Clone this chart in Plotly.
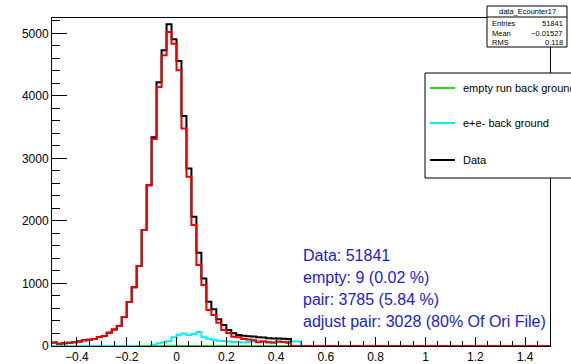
import plotly.graph_objects as go

# histogram binning: 100 bins of 0.02 from -0.5 to 1.5
x_start = -0.5
bin_width = 0.02
n_bins = 100

# counts per bin, first bin is [-0.50, -0.48]; bins not listed are empty
data_counts = [55, 35, 45, 50, 60, 70, 90, 100, 110, 145,
               160, 210, 265, 320, 465, 705, 940, 1280, 1855, 2570,
               3340, 4217, 4728, 5144, 4904, 4557, 3679, 2838, 2066, 1490,
               1081, 708, 586, 426, 335, 256, 203, 176, 165, 155,
               150, 140, 135, 125, 120, 120, 115, 110, 0, 0]

adjusted_counts = [55, 35, 45, 50, 60, 70, 90, 100, 110, 145,
                   160, 210, 265, 320, 465, 705, 940, 1280, 1855, 2570,
                   3310, 4142, 4648, 5021, 4835, 4409, 3477, 2705, 1933, 1294,
                   974, 575, 495, 372, 256, 208, 149, 139, 110, 105,
                   90, 60, 75, 60, 55, 70, 65, 50, 0, 0]

pair_counts = [0, 0, 0, 0, 0, 0, 0, 0, 0, 0,
               0, 0, 0, 0, 0, 0, 0, 0, 0, 0,
               20, 45, 55, 75, 140, 180, 200, 175, 190, 225,
               140, 115, 100, 85, 80, 70, 65, 60, 55, 65,
               70, 75, 65, 55, 50, 60, 65, 70, 70, 70]

# empty run background, first bin is [-0.16, -0.14]
empty_start = -0.16
empty_counts = [0, 0, 0, 0, 0, 1, 2, 2, 1, 1, 1, 0, 0, 1, 0, 0,
                0, 0, 0, 0, 0, 0, 0, 0, 0, 0, 0, 0, 0, 0, 0]

stats_lines = [("Entries", "51841"), ("Mean", "\u22120.01527"), ("RMS", "0.118")]
info_lines = ["Data: 51841", "empty: 9 (0.02 %)", "pair: 3785 (5.84 %)",
              "adjust pair: 3028 (80% Of Ori File)"]

W, H = 571, 364
L, R, T, B = 52, 21, 18, 18
FONT = "Liberation Sans, Arial, Helvetica, sans-serif"


def px(x):
    return (x - L) / (W - L - R)


def py(y):
    return (H - B - y) / (H - T - B)


def step(start, counts, n):
    vals = list(counts) + [0] * (n - len(counts))
    xs = [round(start + i * bin_width, 4) for i in range(n + 1)]
    return xs, vals + [vals[-1]]


fig = go.Figure()
for start, counts, n, color in [
        (x_start, pair_counts, n_bins, "#00f0f5"),
        (empty_start, empty_counts, len(empty_counts), "#22dd22"),
        (x_start, data_counts, n_bins, "black"),
        (x_start, adjusted_counts, n_bins, "#ee0000")]:
    xs, ys = step(start, counts, n)
    fig.add_trace(go.Scatter(x=xs, y=ys, mode="lines", line_shape="hv",
                             line=dict(color=color, width=2), showlegend=False,
                             hoverinfo="skip", cliponaxis=False))

shapes = []
ann = []

# stats box
shapes.append(dict(type="rect", xref="paper", yref="paper", x0=px(487), x1=px(567),
                   y0=py(47), y1=py(6), fillcolor="white", line=dict(color="black", width=1),
                   layer="above"))
shapes.append(dict(type="line", xref="paper", yref="paper", x0=px(487), x1=px(567),
                   y0=py(17), y1=py(17), line=dict(color="black", width=1), layer="above"))
ann.append(dict(x=px(527), y=py(11.5), text="data_Ecounter17", showarrow=False,
                xref="paper", yref="paper", xanchor="center", yanchor="middle",
                font=dict(size=7.5, color="black", family=FONT)))
for i, (k, v) in enumerate(stats_lines):
    yy = py(23 + i * 10)
    ann.append(dict(x=px(490), y=yy, text=k, showarrow=False, xref="paper", yref="paper",
                    xanchor="left", yanchor="middle", font=dict(size=7.5, color="black", family=FONT)))
    ann.append(dict(x=px(565), y=yy, text=v, showarrow=False, xref="paper", yref="paper",
                    xanchor="right", yanchor="middle", font=dict(size=7.5, color="black", family=FONT)))

# legend box
shapes.append(dict(type="rect", xref="paper", yref="paper", x0=px(425), x1=px(600),
                   y0=py(178), y1=py(73), fillcolor="white", line=dict(color="black", width=1),
                   layer="above"))
legend_items = [("empty run back ground", "#22dd22"), ("e+e- back ground", "#00f0f5"),
                ("Data", "black")]
for i, (label, color) in enumerate(legend_items):
    yy = py([88, 123, 160][i])
    shapes.append(dict(type="line", xref="paper", yref="paper", x0=px(430), x1=px(455),
                       y0=yy, y1=yy, line=dict(color=color, width=2), layer="above"))
    ann.append(dict(x=px(461), y=yy, text=label, showarrow=False, xref="paper", yref="paper",
                    xanchor="left", yanchor="middle", font=dict(size=11, color="black", family=FONT)))

# info text
for i, line in enumerate(info_lines):
    ann.append(dict(x=px(301), y=py(255 + i * 22.3), text=line, showarrow=False,
                    xref="paper", yref="paper", xanchor="left", yanchor="middle",
                    font=dict(size=16, color="#1a1ad8", family=FONT)))

fig.update_layout(
    width=W, height=H, margin=dict(l=L, r=R, t=T, b=B, pad=0),
    plot_bgcolor="white", paper_bgcolor="white",
    font=dict(family=FONT, color="black"),
    shapes=shapes, annotations=ann, showlegend=False,
    xaxis=dict(range=[-0.5, 1.5], tick0=0, dtick=0.2, ticks="inside", ticklen=9,
               tickcolor="black", showline=True, linecolor="black", linewidth=1,
               mirror=True, showgrid=False, zeroline=False, automargin=False,
               tickfont=dict(size=12, color="black"),
               minor=dict(dtick=0.05, ticks="inside", ticklen=5, tickcolor="black",
                          showgrid=False)),
    yaxis=dict(range=[0, 5245], tick0=0, dtick=1000, ticks="inside", ticklen=15,
               tickcolor="black", showline=True, linecolor="black", linewidth=1,
               mirror=True, showgrid=False, zeroline=False, automargin=False,
               tickfont=dict(size=12, color="black"),
               minor=dict(dtick=200, ticks="inside", ticklen=8, tickcolor="black",
                          showgrid=False)),
)

# drop the default page margin so the figure sits at the window's corner
fig.write_html("out.html", config={"displayModeBar": False},
               post_script="document.body.style.margin='0';")
